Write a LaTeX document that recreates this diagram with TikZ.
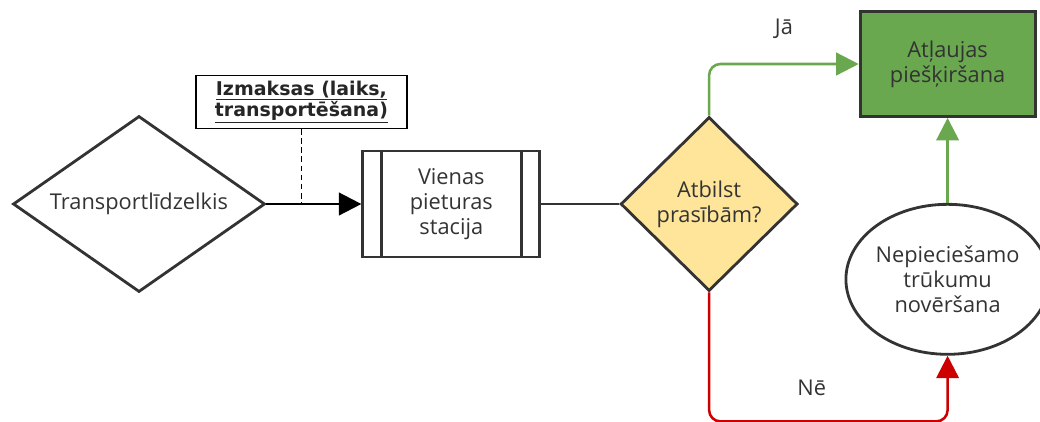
\documentclass[tikz,border=0pt]{standalone}
\usepackage{fontspec}
\setmainfont{Open Sans}
\newfontfamily\notefont{DejaVu Sans}
\usetikzlibrary{positioning,shapes,arrows.meta}

\definecolor{textgray}{HTML}{333333}
\definecolor{linegray}{HTML}{333333}
\definecolor{okgreen}{HTML}{6AA84F}
\definecolor{askyellow}{HTML}{FFE599}
\definecolor{nored}{HTML}{CC0000}

\tikzset{
	base/.style={draw=linegray, line width=2pt, text=textgray, align=center,
		inner sep=0pt, font=\fontsize{15.5}{18}\selectfont},
	link/.style={line width=1.8pt, -{Triangle[length=16pt,width=16pt]}},
	answer/.style={inner sep=0pt, text=textgray, font=\fontsize{15.5}{18}\selectfont},
}

\begin{document}
\begin{tikzpicture}
\useasboundingbox (0,0) rectangle (26,-10.525);

% Vehicle
\node [base,
	diamond,
	shape aspect=1.43,
	minimum width=6.3cm,
	minimum height=4.4cm
] (vehicle) at (3.475,-5.1) {Transportlīdzelkis};

% One-stop station
\node [base,
	rectangle,
	minimum width=4.425cm,
	minimum height=2.65cm,
	right = 2.375cm of vehicle
] (station) {
Vienas\\
pieturas\\
stacija
};
\draw[linegray, line width=2pt] ([xshift=0.5cm]station.north west) -- ([xshift=0.5cm]station.south west);
\draw[linegray, line width=2pt] ([xshift=-0.5cm]station.north east) -- ([xshift=-0.5cm]station.south east);

% Costs note
\coordinate [right = 0.875cm of vehicle.east] (costpin);
\node [draw,
	line width=1pt,
	fill=white,
	minimum width=5.275cm,
	minimum height=1.325cm,
	inner sep=0pt,
	align=center,
	text=black!85,
	font=\notefont\bfseries\fontsize{13.5}{15}\selectfont,
	above = 1.875cm of costpin
] (costs) {
\underline{Izmaksas (laiks,}\\
\underline{transportēšana)}
};

% Requirements check
\node [base,
	diamond,
	fill=askyellow,
	minimum width=4.425cm,
	minimum height=4.35cm,
	right = 1.95cm of station
] (check) {
Atbilst\\
prasībām?
};

% Permit
\node [base,
	rectangle,
	fill=okgreen,
	minimum width=4.375cm,
	minimum height=2.625cm
] (permit) at (23.69,-1.6) {
Atļaujas\\
piešķiršana
};

% Fixing defects
\node [base,
	ellipse,
	minimum width=4.65cm,
	minimum height=3.75cm,
	below = 2.125cm of permit
] (fixes) {
Nepieciešamo\\
trūkumu\\
novēršana
};

% Arrows with text label
\draw[link, black] (vehicle) -- (station);
\draw[line width=0.8pt, dash pattern=on 4pt off 2.5pt] (costs) -- (costpin);
\draw[line width=1.8pt, linegray] (station) -- (check);
\draw[link, okgreen, rounded corners=8pt] (check.north) |- (permit.west)
	node[answer, pos=0.75, above=0.6cm] {Jā};
\draw[link, okgreen] (fixes) -- (permit);
\draw[link, nored, rounded corners=8pt] (check.south) -- ++(0,-3.225) -| (fixes.south)
	node[answer, pos=0.215, above=0.6cm] {Nē};

\end{tikzpicture}
\end{document}
